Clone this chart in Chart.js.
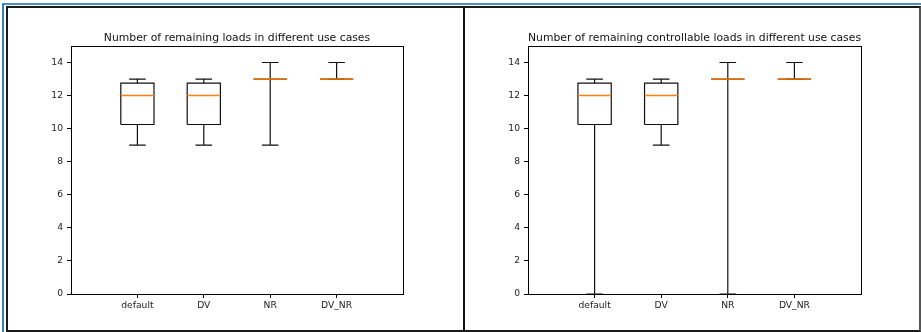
<!DOCTYPE html>
<html>
<head>
<meta charset="utf-8">
<script src="https://cdn.jsdelivr.net/npm/chart.js@4.4.0/dist/chart.umd.min.js"></script>
<style>
  body { margin: 0; background: #fff; width: 921px; height: 332px; overflow: hidden; position: relative; }
  #blue { position: absolute; left: 2px; top: 3px; width: 919px; height: 329px; border-top: 2px solid #4a8fc7; border-left: 2px solid #3b7fbf; box-sizing: border-box; }
  #frame { position: absolute; left: 6px; top: 6px; width: 915px; height: 326px; border: 2px solid #1a1a1a; border-right-color: #555; box-sizing: border-box; }
  #divider { position: absolute; left: 463px; top: 6px; width: 2px; height: 326px; background: #111; }
  canvas { position: absolute; }
  #c1 { left: 8px; top: 8px; }
  #c2 { left: 465px; top: 8px; }
</style>
</head>
<body>
<div id="blue"></div>
<div id="frame"></div>
<div id="divider"></div>
<canvas id="c1" width="455" height="322" style="width:455px;height:322px"></canvas>
<canvas id="c2" width="454" height="322" style="width:454px;height:322px"></canvas>
<script>
const categories = ['default', 'DV', 'NR', 'DV_NR'];
const yTicks = [0, 2, 4, 6, 8, 10, 12, 14];

// remaining loads
const loadsLow = [9, 9, 9, 13];
const loadsQ1 = [10.25, 10.25, 13, 13];
const loadsMed = [12, 12, 13, 13];
const loadsQ3 = [12.75, 12.75, 13, 13];
const loadsHigh = [13, 13, 14, 14];

// remaining controllable loads
const ctrlLow = [0, 9, 0, 13];
const ctrlQ1 = [10.25, 10.25, 13, 13];
const ctrlMed = [12, 12, 13, 13];
const ctrlQ3 = [12.75, 12.75, 13, 13];
const ctrlHigh = [13, 13, 14, 14];

const font = 'DejaVu Sans';

const buildBoxes = (low, q1, med, q3, high) => {
    const box = [], whisk = [], median = [];
    const bw = 0.25, cw = 0.125;
    categories.forEach((c, i) => {
        const x = i + 1;
        box.push({x: x - bw, y: q1[i]}, {x: x + bw, y: q1[i]}, {x: x + bw, y: q3[i]},
                 {x: x - bw, y: q3[i]}, {x: x - bw, y: q1[i]}, {x: x, y: null});
        whisk.push({x: x, y: q1[i]}, {x: x, y: low[i]}, {x: x, y: null});
        whisk.push({x: x - cw, y: low[i]}, {x: x + cw, y: low[i]}, {x: x, y: null});
        whisk.push({x: x, y: q3[i]}, {x: x, y: high[i]}, {x: x, y: null});
        whisk.push({x: x - cw, y: high[i]}, {x: x + cw, y: high[i]}, {x: x, y: null});
        median.push({x: x - bw, y: med[i]}, {x: x + bw, y: med[i]}, {x: x, y: null});
    });
    return {box, whisk, median};
};

const spines = {
    id: 'spines',
    afterDraw(chart) {
        const a = chart.chartArea, ctx = chart.ctx;
        ctx.save();
        ctx.strokeStyle = '#000';
        ctx.lineWidth = 1;
        ctx.strokeRect(Math.round(a.left) + 0.5, Math.round(a.top) + 0.5,
                       Math.round(a.right - a.left), Math.round(a.bottom - a.top));
        ctx.restore();
    }
};

const lineDs = (data, color, width) => ({
    data: data,
    showLine: true,
    spanGaps: false,
    borderColor: color,
    borderWidth: width,
    pointRadius: 0,
    fill: false
});

const makeChart = (id, title, rightPad, low, q1, med, q3, high) => {
    const b = buildBoxes(low, q1, med, q3, high);
    return new Chart(document.getElementById(id), {
        type: 'scatter',
        data: {
            datasets: [
                lineDs(b.median, '#ff7f0e', 1.6),
                lineDs(b.box, '#111', 1.2),
                lineDs(b.whisk, '#111', 1.2)
            ]
        },
        options: {
            responsive: false,
            animation: false,
            layout: { padding: { left: 0, right: rightPad, top: 0, bottom: 0 } },
            plugins: {
                legend: { display: false },
                tooltip: { enabled: false },
                title: {
                    display: true,
                    text: title,
                    fullSize: false,
                    color: '#111',
                    font: { family: font, size: 10.8, weight: 'normal' },
                    padding: { top: 24, bottom: 1 }
                }
            },
            scales: {
                x: {
                    type: 'linear',
                    min: 0,
                    max: 5,
                    afterBuildTicks: s => { s.ticks = categories.map((c, i) => ({value: i + 1})); },
                    afterFit: s => { s.height = 36; },
                    grid: { drawOnChartArea: false, color: '#000', tickLength: 4 },
                    border: { display: false },
                    ticks: {
                        color: '#222',
                        padding: 2,
                        maxRotation: 0,
                        font: { family: font, size: 9.2 },
                        callback: v => categories[v - 1]
                    }
                },
                y: {
                    min: 0,
                    max: 15,
                    afterBuildTicks: s => { s.ticks = yTicks.map(v => ({value: v})); },
                    afterFit: s => { s.width = 63; },
                    grid: { drawOnChartArea: false, color: '#000', tickLength: 4 },
                    border: { display: false },
                    ticks: {
                        color: '#222',
                        padding: 4,
                        font: { family: font, size: 9.2 }
                    }
                }
            }
        },
        plugins: [spines]
    });
};

makeChart('c1', 'Number of remaining loads in different use cases', 60,
          loadsLow, loadsQ1, loadsMed, loadsQ3, loadsHigh);
makeChart('c2', 'Number of remaining controllable loads in different use cases', 58,
          ctrlLow, ctrlQ1, ctrlMed, ctrlQ3, ctrlHigh);
</script>
</body>
</html>
